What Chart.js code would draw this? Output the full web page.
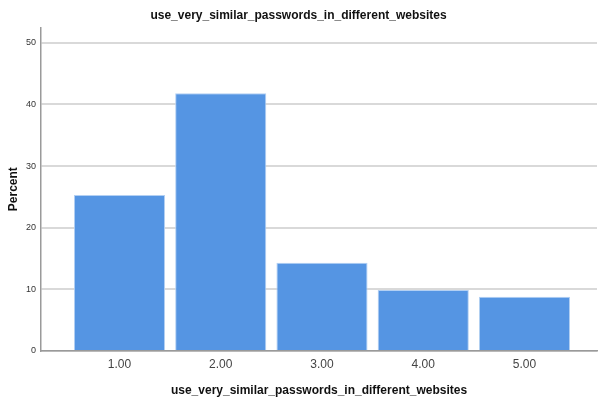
<!DOCTYPE html>
<html>
<head>
<meta charset="utf-8">
<script src="https://cdn.jsdelivr.net/npm/chart.js@4/dist/chart.umd.min.js"></script>
<style>
  html, body { margin: 0; padding: 0; background: #fff; }
  #wrap { width: 598px; height: 401px; }
</style>
</head>
<body>
<div id="wrap"><canvas id="grafico"></canvas></div>
<script>
var titulo = "use_very_similar_passwords_in_different_websites";
var categorias = [1, 2, 3, 4, 5];
var porcentajes = [25.3, 41.8, 14.3, 9.9, 8.8];
var ticksY = [0, 10, 20, 30, 40, 50];

var fuente = "'Liberation Sans', Arial, sans-serif";

var puntos = categorias.map(function (c, i) { return { x: c, y: porcentajes[i] }; });

var ctx = document.getElementById("grafico").getContext("2d");
window.myBar = new Chart(ctx, {
    type: 'bar',
    data: {
        datasets: [{
            label: 'Percent',
            data: puntos,
            backgroundColor: '#5595e3',
            borderColor: '#b3d0f3',
            borderWidth: 1,
            barPercentage: 0.9,
            categoryPercentage: 1.0
        }]
    },
    options: {
        responsive: true,
        maintainAspectRatio: false,
        animation: false,
        layout: { padding: { left: 0, right: 1, top: 0, bottom: 0 } },
        plugins: {
            legend: { display: false },
            tooltip: { enabled: false },
            title: {
                display: true,
                text: titulo,
                color: '#111',
                font: { family: fuente, size: 12, weight: 'bold' },
                padding: { top: 8, bottom: 5 }
            }
        },
        scales: {
            x: {
                type: 'linear',
                offset: false,
                min: 0.225,
                max: 5.716,
                afterBuildTicks: function (scale) {
                    scale.ticks = categorias.map(function (v) { return { value: v }; });
                },
                afterFit: function (scale) { scale.height = 50; },
                ticks: {
                    color: '#444',
                    font: { family: fuente, size: 12 },
                    padding: 6,
                    autoSkip: false,
                    maxRotation: 0,
                    callback: function (v) { return Number(v).toFixed(2); }
                },
                grid: { display: false, drawTicks: false },
                border: { display: true, color: '#9a9a9a', width: 1.5 },
                title: {
                    display: true,
                    text: titulo,
                    color: '#111',
                    font: { family: fuente, size: 12, weight: 'bold' },
                    padding: { top: 0, bottom: 3 }
                }
            },
            y: {
                min: 0,
                max: 52.5,
                afterBuildTicks: function (scale) {
                    scale.ticks = ticksY.map(function (v) { return { value: v }; });
                },
                afterFit: function (scale) { scale.width = 41; },
                ticks: {
                    color: '#333',
                    font: { family: fuente, size: 9 },
                    padding: 5
                },
                grid: { color: '#d9d9d9', lineWidth: 2, drawTicks: false, tickLength: 0 },
                border: { display: true, color: '#9a9a9a', width: 1.5 },
                title: {
                    display: true,
                    text: 'Percent',
                    color: '#111',
                    font: { family: fuente, size: 12, weight: 'bold' },
                    padding: { top: 6, bottom: 0 }
                }
            }
        }
    }
});
</script>
</body>
</html>
